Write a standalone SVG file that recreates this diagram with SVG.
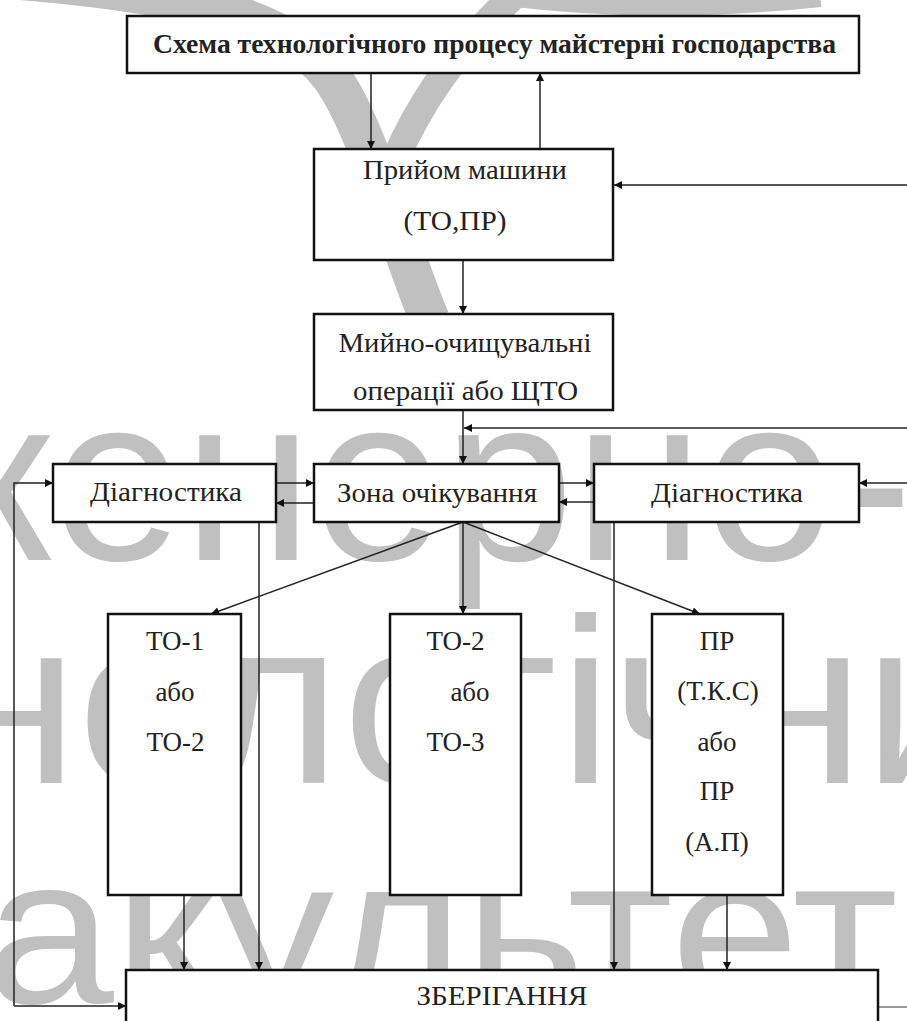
<svg xmlns="http://www.w3.org/2000/svg" width="907" height="1021" viewBox="0 0 907 1021">
<style>
.wm{fill:#c0c0c0}
.box{fill:#fff;stroke:#111;stroke-width:2.5}
.t{fill:#222;text-anchor:middle}
.c{fill:none;stroke:#222;stroke-width:1.5}
.g{fill:none;stroke:#999;stroke-width:2}
</style>
<defs>
<marker id="ah" viewBox="0 0 10 10" refX="10" refY="5" markerWidth="9" markerHeight="8" markerUnits="userSpaceOnUse" orient="auto">
<path d="M0,0 L10,5 L0,10 z" fill="#111"/>
</marker>
</defs>
<rect width="907" height="1021" fill="#fff"/>
<g id="watermark" font-family="Liberation Sans, Arial, sans-serif">
<path d="M20,-20 C200,-5 300,20 340,90 C375,150 400,250 430,320" fill="none" stroke="#c0c0c0" stroke-width="40"/>
<path d="M520,-10 C470,35 425,90 395,160" fill="none" stroke="#c0c0c0" stroke-width="28"/>
<path d="M500,-8 Q650,12 820,-6" fill="none" stroke="#c0c0c0" stroke-width="26"/>
<text class="wm" x="-287" y="560" font-size="235">інженерно-</text>
<text class="wm" x="-400" y="783" font-size="235">технологічний</text>
<text class="wm" x="-206" y="1003" font-size="232" transform="translate(0,1003) scale(1,0.9) translate(0,-1003)">факультет</text>
</g>
<g id="connectors">
<path class="c" d="M371,73 L371,149" marker-end="url(#ah)"/>
<path class="c" d="M540,149 L540,73" marker-end="url(#ah)"/>
<path class="c" d="M907,185 L614,185" marker-end="url(#ah)"/>
<path class="c" d="M463,260 L463,314" marker-end="url(#ah)"/>
<path class="c" d="M463,410 L463,464" marker-end="url(#ah)"/>
<path class="c" d="M907,428 L464,428" marker-end="url(#ah)"/>
<path class="c" d="M276,483 L314,483" marker-end="url(#ah)"/>
<path class="c" d="M314,503 L276,503" marker-end="url(#ah)"/>
<path class="c" d="M559,483 L594,483" marker-end="url(#ah)"/>
<path class="c" d="M594,502 L559,502" marker-end="url(#ah)"/>
<path class="c" d="M907,483 L859,483" marker-end="url(#ah)"/>
<path class="c" d="M14,1006 L14,483 L53,483" marker-end="url(#ah)"/>
<path class="c" d="M14,1006 L126,1006" marker-end="url(#ah)"/>
<path class="c" d="M463,522 L211,614" marker-end="url(#ah)"/>
<path class="c" d="M463,522 L463,614" marker-end="url(#ah)"/>
<path class="c" d="M463,522 L700,614" marker-end="url(#ah)"/>
<path class="c" d="M184,895 L184,970" marker-end="url(#ah)"/>
<path class="c" d="M259,522 L259,970" marker-end="url(#ah)"/>
<path class="c" d="M614,522 L614,970" marker-end="url(#ah)"/>
<path class="c" d="M727,895 L727,970" marker-end="url(#ah)"/>
<path class="g" d="M879,1007 L907,1007"/>
</g>
<g font-family="Liberation Serif, Times New Roman, serif" font-size="27">
<g id="title">
<rect class="box" x="127" y="16" width="732" height="57"/>
<text class="t" x="494.5" y="53" font-weight="bold" textLength="683" lengthAdjust="spacingAndGlyphs">Схема технологічного процесу майстерні господарства</text>
</g>
<g id="priyom">
<rect class="box" x="314" y="149" width="299" height="111"/>
<text class="t" x="465" y="179" textLength="204" lengthAdjust="spacingAndGlyphs">Прийом машини</text>
<text class="t" x="455" y="230" textLength="103" lengthAdjust="spacingAndGlyphs">(ТО,ПР)</text>
</g>
<g id="myino">
<rect class="box" x="314" y="314" width="299" height="96"/>
<text class="t" x="465" y="352" textLength="253" lengthAdjust="spacingAndGlyphs">Мийно-очищувальні</text>
<text class="t" x="465.5" y="400" textLength="225" lengthAdjust="spacingAndGlyphs">операції або ЩТО</text>
</g>
<g id="diag-left">
<rect class="box" x="53" y="464" width="223" height="58"/>
<text class="t" x="166" y="501" textLength="152" lengthAdjust="spacingAndGlyphs">Діагностика</text>
</g>
<g id="zona">
<rect class="box" x="314" y="464" width="245" height="58"/>
<text class="t" x="437" y="502" textLength="200" lengthAdjust="spacingAndGlyphs">Зона очікування</text>
</g>
<g id="diag-right">
<rect class="box" x="594" y="464" width="265" height="58"/>
<text class="t" x="727" y="502" textLength="152" lengthAdjust="spacingAndGlyphs">Діагностика</text>
</g>
<g id="to1">
<rect class="box" x="108" y="614" width="133" height="281"/>
<text class="t" x="175" y="650">ТО-1</text>
<text class="t" x="175" y="701">або</text>
<text class="t" x="175.5" y="751">ТО-2</text>
</g>
<g id="to2">
<rect class="box" x="390" y="614" width="131" height="281"/>
<text class="t" x="455.5" y="650">ТО-2</text>
<text class="t" x="470" y="701">або</text>
<text class="t" x="455.5" y="751">ТО-3</text>
</g>
<g id="pr">
<rect class="box" x="652" y="614" width="131" height="281"/>
<text class="t" x="717" y="650">ПР</text>
<text class="t" x="718" y="700">(Т.К.С)</text>
<text class="t" x="717" y="751">або</text>
<text class="t" x="717" y="800">ПР</text>
<text class="t" x="717" y="851">(А.П)</text>
</g>
<g id="zberigannya">
<rect class="box" x="126" y="970" width="752" height="70"/>
<text class="t" x="502" y="1005" textLength="171" lengthAdjust="spacingAndGlyphs">ЗБЕРІГАННЯ</text>
</g>
</g>
</svg>
